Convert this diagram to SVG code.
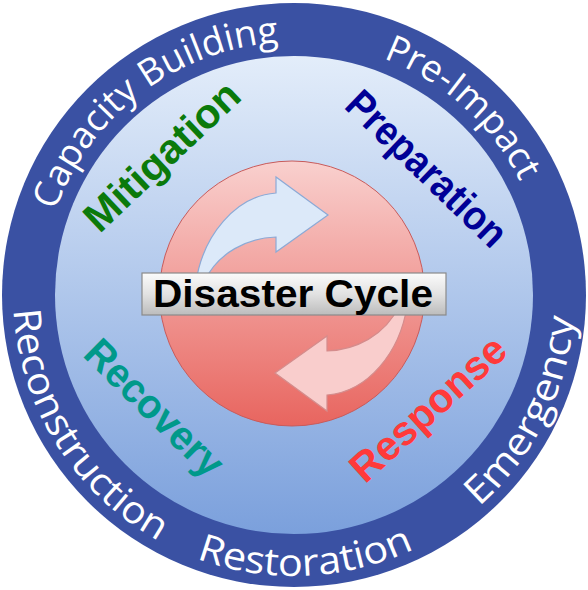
<svg xmlns="http://www.w3.org/2000/svg" width="588" height="590" viewBox="0 0 588 590">
<defs>
<linearGradient id="gInner" x1="0" y1="0" x2="0" y2="1">
<stop offset="0" stop-color="#e3edfa"/>
<stop offset="1" stop-color="#7ba0dc"/>
</linearGradient>
<linearGradient id="gRed" x1="0" y1="0" x2="0" y2="1">
<stop offset="0" stop-color="#f9d0ce"/>
<stop offset="1" stop-color="#e8655f"/>
</linearGradient>
<linearGradient id="gBox" x1="0" y1="0" x2="0" y2="1">
<stop offset="0" stop-color="#fbfbfb"/>
<stop offset="0.5" stop-color="#e2e2e2"/>
<stop offset="1" stop-color="#bcbcbc"/>
</linearGradient>
<path id="pCap" d="M 68.6 409.9 A 253 253 0 0 1 466.5 110.0"/>
<path id="pPre" d="M 138.2 95.6 A 253 253 0 0 1 508.5 429.1"/>
<path id="pRest" d="M 19.7 355.8 A 281 281 0 0 0 572.6 331.7"/>
<path id="pRecon" d="M 105.6 86.5 A 281 281 0 0 0 399.7 555.3"/>
<path id="pEmer" d="M 213.2 564.1 A 281 281 0 0 0 461.9 69.7"/>
</defs>
<style>
.ring{font-family:"Open Sans","Liberation Sans",sans-serif;font-size:37px;fill:#ffffff;}
.ringb{font-family:"Open Sans","Liberation Sans",sans-serif;font-size:38px;fill:#ffffff;}
.phase{font-family:"Liberation Sans",Arial,sans-serif;font-weight:bold;font-size:41px;}
.title{font-family:"Liberation Sans",Arial,sans-serif;font-weight:bold;font-size:39px;fill:#000000;}
</style>
<g id="background">
<circle cx="294" cy="295" r="292" fill="#3a51a3"/>
<circle cx="294" cy="295" r="239" fill="url(#gInner)"/>
</g>
<g id="outer-labels">
<text class="ring"><textPath href="#pCap" startOffset="50%" text-anchor="middle" textLength="296" lengthAdjust="spacingAndGlyphs">Capacity Building</textPath></text>
<text class="ring"><textPath href="#pPre" startOffset="50%" text-anchor="middle" textLength="189" lengthAdjust="spacingAndGlyphs">Pre-Impact</textPath></text>
<text class="ringb"><textPath href="#pEmer" startOffset="50%" text-anchor="middle" textLength="217" lengthAdjust="spacingAndGlyphs">Emergency</textPath></text>
<text class="ringb"><textPath href="#pRest" startOffset="50%" text-anchor="middle" textLength="224" lengthAdjust="spacingAndGlyphs">Restoration</textPath></text>
<text class="ringb"><textPath href="#pRecon" startOffset="50%" text-anchor="middle" textLength="285" lengthAdjust="spacingAndGlyphs">Reconstruction</textPath></text>
</g>
<g id="phase-labels">
<text class="phase" fill="#0b7a0b" text-anchor="middle" textLength="198" lengthAdjust="spacingAndGlyphs" transform="translate(171.4 166.3) rotate(-43.4)">Mitigation</text>
<text class="phase" fill="#000096" text-anchor="middle" textLength="206" lengthAdjust="spacingAndGlyphs" transform="translate(417.2 178.6) rotate(43.9)">Preparation</text>
<text class="phase" fill="#00998a" text-anchor="middle" textLength="177" lengthAdjust="spacingAndGlyphs" transform="translate(144.8 417.8) rotate(44.5)">Recovery</text>
<text class="phase" fill="#ff3a3a" text-anchor="middle" textLength="195" lengthAdjust="spacingAndGlyphs" transform="translate(437.3 418.9) rotate(-42.2)">Response</text>
</g>
<g id="cycle">
<circle cx="292" cy="293.5" r="132.5" fill="url(#gRed)" stroke="#c85b5b" stroke-width="1"/>
<g id="connectors">
<path id="arrow-up" d="M 196 282 C 203 236 235 196 276 193 L 276 177 L 328 215 L 276 252 L 276 237 C 248 238 218 252 204 282 Z" fill="#dce9f9" stroke="#8caad6" stroke-width="1.2"/>
<path id="arrow-down" d="M 196 282 C 203 236 235 196 276 193 L 276 177 L 328 215 L 276 252 L 276 237 C 248 238 218 252 204 282 Z" fill="#f9cdcc" stroke="#d58c8c" stroke-width="1.2" transform="rotate(180 301.5 294)"/>
</g>
</g>
<g id="disaster-cycle">
<rect x="142" y="273" width="304" height="42" fill="url(#gBox)" stroke="#8a8a8a" stroke-width="1.2"/>
<text class="title" x="293" y="307" text-anchor="middle" textLength="280" lengthAdjust="spacingAndGlyphs">Disaster Cycle</text>
</g>
</svg>
